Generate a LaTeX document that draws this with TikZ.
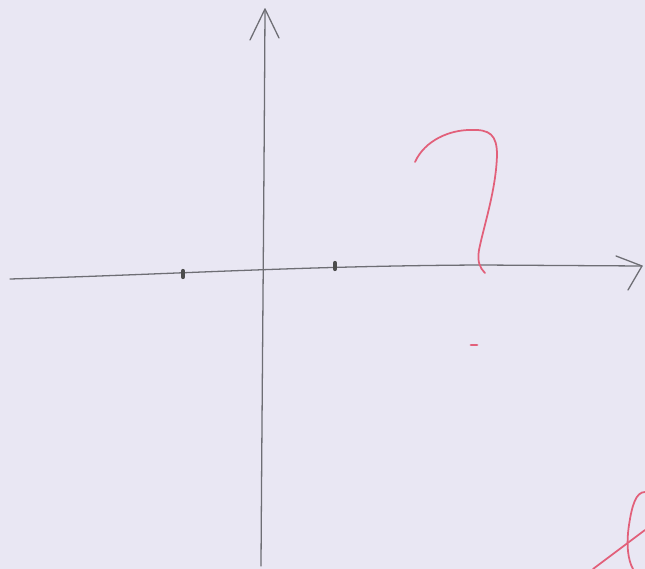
\documentclass[tikz,border=0pt]{standalone}
\usetikzlibrary{calc}
\definecolor{bgpaper}{RGB}{233,231,243}
\definecolor{redink}{RGB}{226,96,122}
\definecolor{pencilgray}{RGB}{110,110,116}
\begin{document}
\begin{tikzpicture}[x=0.03cm,y=-0.03cm,
  pencil/.style={draw=pencilgray, line width=1.1pt, line cap=round, line join=round},
  redpen/.style={draw=redink, line width=1.5pt, line cap=round, line join=round},
  tickmark/.style={draw=black!70, line width=3.6pt, line cap=round}]
\fill[bgpaper] (0,0) rectangle (645,569);
\useasboundingbox (0,0) rectangle (645,569);
% horizontal axis
\coordinate (xl) at (10,279);
\coordinate (xr) at (642,266);
\draw[pencil] (xl) .. controls (180,274) and (300,266) .. (480,265) -- (xr);
\draw[pencil] (616,256) -- (xr) -- (628,290);
% vertical axis
\coordinate (yb) at (261,566);
\coordinate (yt) at (265,9);
\draw[pencil] (yb) .. controls (262,400) and (264,200) .. (yt);
\draw[pencil] (250,40) -- (yt) -- (279,38);
% ticks
\coordinate (t1) at (183,274);
\coordinate (t2) at (335,266);
\draw[tickmark] ($(t1)+(0,-3)$) -- ($(t1)+(0,3)$);
\draw[tickmark] ($(t2)+(0,-3)$) -- ($(t2)+(0,3)$);
% question mark
\draw[redpen] (415,162) .. controls (425,140) and (450,130) .. (470,130)
  .. controls (490,129) and (497,135) .. (497,155)
  .. controls (496,190) and (484,225) .. (479,250)
  .. controls (477,262) and (480,268) .. (485,273);
% red dot
\draw[redpen, line width=2.4pt] (471,345) -- (477,345);
% bottom right red strokes
\draw[redpen] (593,569) -- (645,530);
\draw[redpen] (645,492) .. controls (636,492) and (632,505) .. (629,525)
  .. controls (626,545) and (628,560) .. (633,569);
\end{tikzpicture}
\end{document}
